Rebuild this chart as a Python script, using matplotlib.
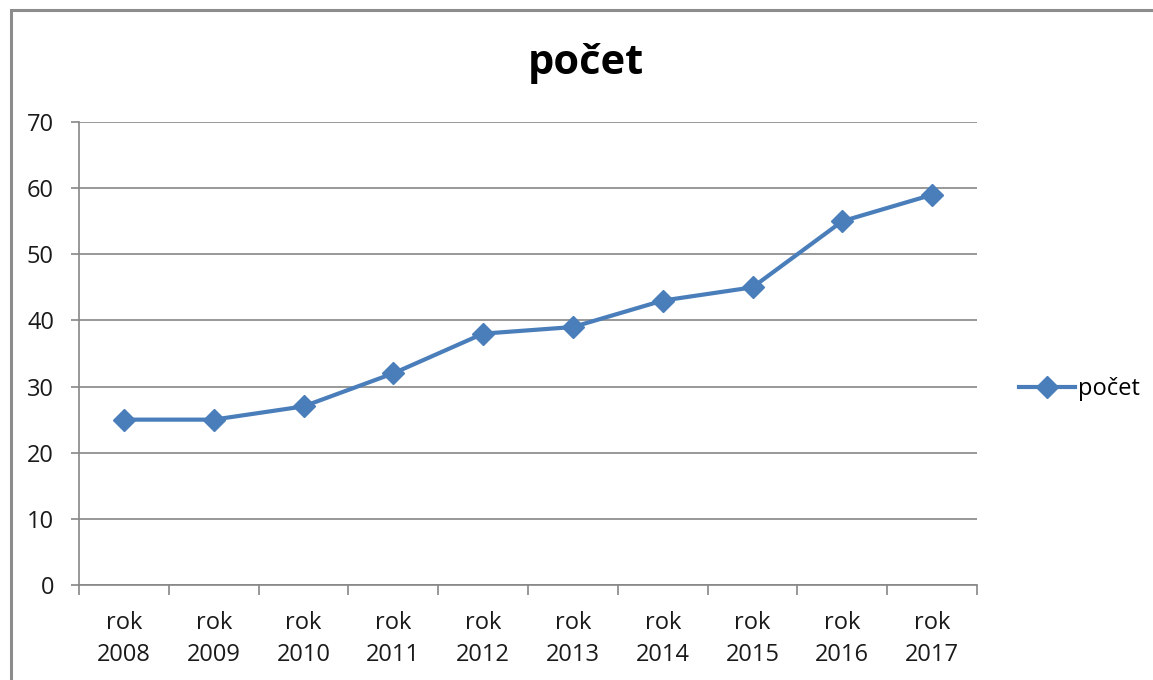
import matplotlib
matplotlib.use("Agg")
import matplotlib.pyplot as plt
from matplotlib.patches import Rectangle
from matplotlib.lines import Line2D

categories = ["rok\n2008", "rok\n2009", "rok\n2010", "rok\n2011", "rok\n2012",
              "rok\n2013", "rok\n2014", "rok\n2015", "rok\n2016", "rok\n2017"]
values = [25, 25, 27, 32, 38, 39, 43, 45, 55, 59]
series_name = "počet"
title = "počet"
y_ticks = [0, 10, 20, 30, 40, 50, 60, 70]

W, H = 1153, 680
plt.rcParams['font.family'] = ['Open Sans', 'DejaVu Sans']
fig = plt.figure(figsize=(W / 100, H / 100), dpi=100)

# outer border
fig.patches.append(Rectangle((11 / W, -0.1), 1.2, 1 - 10 / H + 0.1, transform=fig.transFigure,
                             fill=False, edgecolor="#8c8c8c", linewidth=2.2))

left, right, top, bottom = 79, 977, 122, 585
ax = fig.add_axes([left / W, 1 - bottom / H, (right - left) / W, (bottom - top) / H])

line_color = "#4a7ebb"
grid_color = "#868686"
text_color = "#1a1a1a"
fs = 17
x = list(range(len(values)))
ax.plot(x, values, color=line_color, linewidth=3.0, marker="D", markersize=11.5,
        markeredgecolor=line_color, markerfacecolor=line_color, zorder=3)

ax.set_xlim(-0.5, len(values) - 0.5)
ax.set_ylim(0, 70)
ax.set_yticks(y_ticks)
ax.set_yticklabels([str(v) for v in y_ticks], fontsize=fs, color=text_color)
ax.yaxis.grid(True, color=grid_color, linewidth=1.2)
ax.set_axisbelow(True)

ax.set_xticks(x)
ax.set_xticklabels(categories, fontsize=fs, color=text_color, linespacing=1.4)
ax.tick_params(axis='x', length=0, pad=19)
ax.set_xticks([i - 0.5 for i in range(len(values) + 1)], minor=True)
ax.tick_params(axis='x', which='minor', length=7, color=grid_color, width=1.2)
ax.tick_params(axis='y', length=6, color=grid_color, width=1.2, pad=12)

for s in ["top", "right"]:
    ax.spines[s].set_visible(False)
for s in ["left", "bottom"]:
    ax.spines[s].set_color(grid_color)
    ax.spines[s].set_linewidth(1.2)

fig.text(586 / W, 1 - 63 / H, title, fontsize=30, fontweight="bold", ha="center", va="center")

handle = Line2D([], [], color=line_color, linewidth=3.0, marker="D", markersize=11.5,
                markeredgecolor=line_color, markerfacecolor=line_color)
fig.legend([handle], [series_name], loc="center left", bbox_to_anchor=(1007 / W, 1 - 389 / H),
           frameon=False, fontsize=fs, handlelength=2.4, handletextpad=0.1, borderpad=0)

fig.savefig("out.png", dpi=100, facecolor="white")
